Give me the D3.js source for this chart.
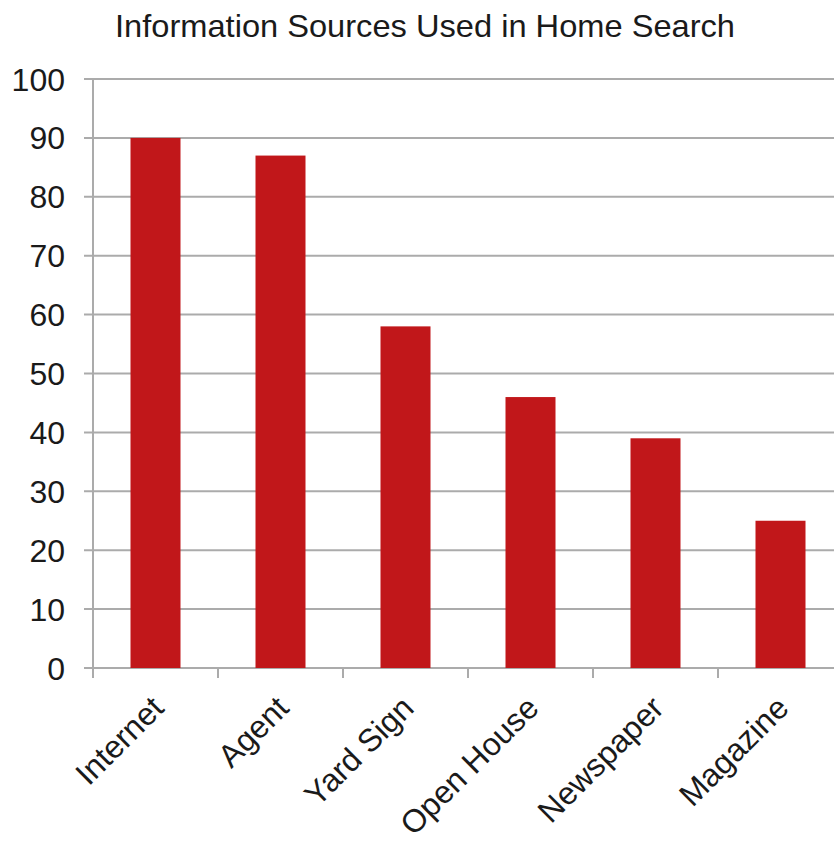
<!DOCTYPE html>
<html>
<head>
<meta charset="utf-8">
<script src="https://cdn.jsdelivr.net/npm/d3@7"></script>
<style>
  html, body { margin: 0; padding: 0; background: #fff; }
  svg { display: block; }
  text { font-family: "Liberation Sans", Arial, sans-serif; fill: #1a1a1a; }
</style>
</head>
<body>
<svg id="chart" width="834" height="844"></svg>
<script>
const title = "Information Sources Used in Home Search";
const categories = ["Internet", "Agent", "Yard Sign", "Open House", "Newspaper", "Magazine"];
const values = [90, 87, 58, 46, 39, 25];
const yTicks = [0, 10, 20, 30, 40, 50, 60, 70, 80, 90, 100];

const svg = d3.select("#chart");
const plotLeft = 93, plotRight = 843, plotTop = 79, plotBottom = 668;

const x = d3.scaleBand().domain(categories).range([plotLeft, plotRight])
  .paddingInner(0.6).paddingOuter(0.3);
const y = d3.scaleLinear().domain([0, 100]).range([plotBottom, plotTop]);

svg.append("text")
  .attr("x", 425).attr("y", 37)
  .attr("text-anchor", "middle")
  .attr("textLength", 620)
  .attr("lengthAdjust", "spacingAndGlyphs")
  .style("font-size", "32px")
  .text(title);

// gridlines
svg.append("g").selectAll("line").data(yTicks).join("line")
  .attr("x1", plotLeft - 9).attr("x2", 834)
  .attr("y1", d => y(d)).attr("y2", d => y(d))
  .attr("stroke", "#ababab").attr("stroke-width", 2);

// y axis line
svg.append("line")
  .attr("x1", plotLeft).attr("x2", plotLeft)
  .attr("y1", plotTop).attr("y2", plotBottom + 10)
  .attr("stroke", "#ababab").attr("stroke-width", 2);

// y tick labels
svg.append("g").selectAll("text").data(yTicks).join("text")
  .attr("x", 65).attr("y", d => y(d))
  .attr("dy", "0.36em")
  .attr("text-anchor", "end")
  .style("font-size", "32px")
  .text(d => d);

// x category boundary ticks
const step = x.step();
const bounds = d3.range(categories.length + 1).map(i => plotLeft + i * step);
svg.append("g").selectAll("line").data(bounds).join("line")
  .attr("x1", d => d).attr("x2", d => d)
  .attr("y1", plotBottom).attr("y2", plotBottom + 10)
  .attr("stroke", "#ababab").attr("stroke-width", 2);

// bars
svg.append("g").selectAll("rect").data(categories).join("rect")
  .attr("x", d => x(d))
  .attr("width", x.bandwidth())
  .attr("y", (d, i) => y(values[i]))
  .attr("height", (d, i) => y(0) - y(values[i]))
  .attr("fill", "#c1171a");

// x labels
svg.append("g").selectAll("text").data(categories).join("text")
  .attr("text-anchor", "end")
  .attr("transform", d => `translate(${x(d) + x.bandwidth() / 2 + 10},${plotBottom + 42}) rotate(-45)`)
  .style("font-size", "32px")
  .text(d => d);
</script>
</body>
</html>
